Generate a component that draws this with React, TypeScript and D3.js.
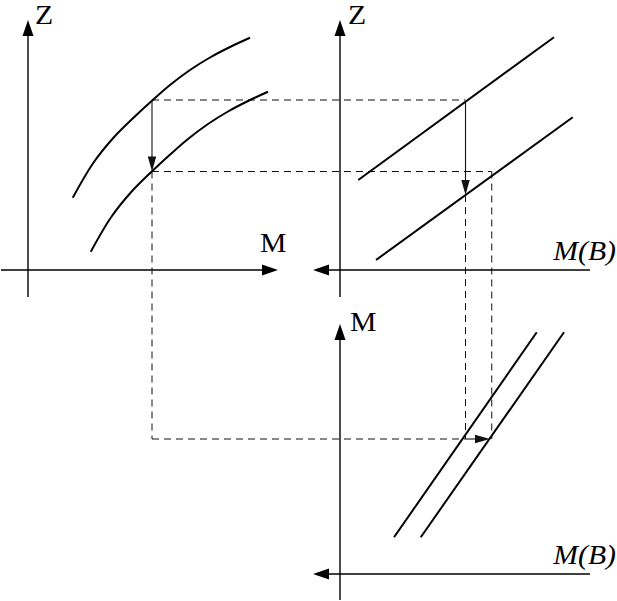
import React from "react";
import * as d3 from "d3";

// ---- data (abstract units 0..100 in each panel) ----
// Top-left panel: Z vs M, two concave curves
const mHigh = [17.9, 26.1, 34.1, 42.1, 50.0, 56.8, 64.8, 72.8, 80.8, 88.8];
const zHigh = [28.9, 42.8, 52.8, 60.8, 68.1, 74.0, 80.0, 85.0, 89.2, 92.9];
const mLow = [25.1, 33.3, 41.3, 49.3, 57.2, 64.0, 72.0, 80.0, 88.0, 96.0];
const zLow = [7.3, 21.2, 31.2, 39.2, 46.5, 52.4, 58.4, 63.4, 67.6, 71.3];

// Top-right panel: Z vs M(B), two straight lines
const mbLineA = [7.3, 85.6];
const zLineA = [36, 93.1];
const mbLineB = [14.4, 93.1];
const zLineB = [4, 61.1];

// Bottom-right panel: M vs M(B), two straight lines
const mbDiagA = [21.6, 78.7];
const mDiagA = [14.7, 96.7];
const mbDiagB = [32.3, 89.6];
const mDiagB = [14.7, 96.7];

// Construction values
const mStart = 49.6;
const zStart = 68;
const zAfter = 39.4;
const mbStart = 50.2;
const mbAfter = 60.7;
const zArrowTop = 67.6;
const zArrowTip = 30;
const mbArrowEnd = 60;
const mLevel = 54;

// Labels
const labelZ = "Z";
const labelM = "M";
const labelMB = "M(B)";

// ---- scales ----
const xM = d3.scaleLinear().domain([0, 100]).range([28, 278]);
const zY = d3.scaleLinear().domain([0, 100]).range([270, 20]);
const xMB = d3.scaleLinear().domain([0, 100]).range([340, 590]);
const mY = d3.scaleLinear().domain([0, 100]).range([574, 324]);

const W = 617;
const H = 601;

const curveGen = d3
  .line<[number, number]>()
  .x((d) => d[0])
  .y((d) => d[1])
  .curve(d3.curveCatmullRom.alpha(0.5));

const straight = d3
  .line<[number, number]>()
  .x((d) => d[0])
  .y((d) => d[1]);

function pts(xs: number[], ys: number[], sx: any, sy: any): [number, number][] {
  return xs.map((x, i) => [sx(x), sy(ys[i])]);
}

function head(x1: number, y1: number, x2: number, y2: number, len: number, hw: number) {
  const dx = x2 - x1;
  const dy = y2 - y1;
  const L = Math.hypot(dx, dy);
  const ux = dx / L;
  const uy = dy / L;
  const bx = x2 - ux * len;
  const by = y2 - uy * len;
  const px = -uy;
  const py = ux;
  return `M${x2},${y2}L${bx + px * hw},${by + py * hw}L${bx - px * hw},${by - py * hw}Z`;
}

function Arrow({ x1, y1, x2, y2, len, hw, sw, color }: any) {
  const dx = x2 - x1;
  const dy = y2 - y1;
  const L = Math.hypot(dx, dy);
  const ex = x2 - (dx / L) * (len - 1);
  const ey = y2 - (dy / L) * (len - 1);
  return (
    <g>
      <line x1={x1} y1={y1} x2={ex} y2={ey} stroke={color} strokeWidth={sw} />
      <path d={head(x1, y1, x2, y2, len, hw)} fill={color} />
    </g>
  );
}

const font = "'Liberation Serif', 'Times New Roman', serif";

function Label({ x, y, text, italic, anchor }: any) {
  return (
    <text
      transform={`translate(${x},${y}) scale(1.1,1)`}
      fontFamily={font}
      fontSize={27}
      fontStyle={italic ? "italic" : "normal"}
      textAnchor={anchor || "start"}
      fill="#000"
    >
      {text}
    </text>
  );
}

export default function App() {
  const dash = "7,5";
  const dashColor = "#111";

  const guides: [number, number, number, number][] = [
    [xM(mStart), zY(zStart), xMB(mbStart), zY(zStart)],
    [xM(mStart), zY(zAfter), xMB(mbAfter), zY(zAfter)],
    [xM(mStart), zY(zAfter), xM(mStart), mY(mLevel)],
    [xM(mStart), mY(mLevel), xMB(mbStart), mY(mLevel)],
    [xMB(mbStart), zY(zArrowTip), xMB(mbStart), mY(mLevel)],
    [xMB(mbAfter), zY(zAfter), xMB(mbAfter), mY(mLevel)],
  ];

  return (
    <svg
      width={W}
      height={H}
      style={{ position: "absolute", left: 0, top: 0, background: "#fff" }}
    >
      <rect x={0} y={0} width={W} height={H} fill="#fff" />

      {/* dashed construction lines */}
      {guides.map((g, i) => (
        <line
          key={i}
          x1={g[0]}
          y1={g[1]}
          x2={g[2]}
          y2={g[3]}
          stroke={dashColor}
          strokeWidth={1}
          strokeDasharray={dash}
        />
      ))}

      {/* axes: top-left */}
      <Arrow x1={xM(-10.8)} y1={zY(0)} x2={xM(100)} y2={zY(0)} len={16} hw={5.5} sw={1.4} color="#000" />
      <Arrow x1={xM(0)} y1={zY(-10.8)} x2={xM(0)} y2={zY(100)} len={16} hw={5.5} sw={1.4} color="#000" />
      {/* axes: top-right */}
      <Arrow x1={xMB(100)} y1={zY(0)} x2={xMB(-10.8)} y2={zY(0)} len={16} hw={5.5} sw={1.4} color="#000" />
      <Arrow x1={xMB(0)} y1={zY(-10.8)} x2={xMB(0)} y2={zY(100)} len={16} hw={5.5} sw={1.4} color="#000" />
      {/* axes: bottom-right */}
      <Arrow x1={xMB(100)} y1={mY(0)} x2={xMB(-10.8)} y2={mY(0)} len={16} hw={5.5} sw={1.4} color="#000" />
      <Arrow x1={xMB(0)} y1={mY(-10.4)} x2={xMB(0)} y2={mY(100)} len={16} hw={5.5} sw={1.4} color="#000" />

      {/* curves */}
      <path d={curveGen(pts(mHigh, zHigh, xM, zY)) || ""} fill="none" stroke="#000" strokeWidth={2} />
      <path d={curveGen(pts(mLow, zLow, xM, zY)) || ""} fill="none" stroke="#000" strokeWidth={2} />
      <path d={straight(pts(mbLineA, zLineA, xMB, zY)) || ""} fill="none" stroke="#000" strokeWidth={2} />
      <path d={straight(pts(mbLineB, zLineB, xMB, zY)) || ""} fill="none" stroke="#000" strokeWidth={2} />
      <path d={straight(pts(mbDiagA, mDiagA, xMB, mY)) || ""} fill="none" stroke="#000" strokeWidth={2} />
      <path d={straight(pts(mbDiagB, mDiagB, xMB, mY)) || ""} fill="none" stroke="#000" strokeWidth={2} />

      {/* shift arrows */}
      <Arrow x1={xM(mStart)} y1={zY(zStart)} x2={xM(mStart)} y2={zY(zAfter)} len={15} hw={4.2} sw={1.1} color="#111" />
      <Arrow x1={xMB(mbStart)} y1={zY(zArrowTop)} x2={xMB(mbStart)} y2={zY(zArrowTip)} len={15} hw={4.2} sw={1.1} color="#111" />
      <Arrow x1={xMB(mbStart)} y1={mY(mLevel)} x2={xMB(mbArrowEnd)} y2={mY(mLevel)} len={15} hw={4.2} sw={1.1} color="#111" />

      {/* labels */}
      <Label x={xM(0) + 7} y={zY(100) + 4} text={labelZ} />
      <Label x={xM(100) - 18} y={zY(0) - 18} text={labelM} />
      <Label x={xMB(0) + 8} y={zY(100) + 4} text={labelZ} />
      <Label x={W - 1} y={zY(0) - 10} text={labelMB} italic anchor="end" />
      <Label x={xMB(0) + 10} y={mY(100) + 7} text={labelM} />
      <Label x={W - 1} y={mY(0) - 10} text={labelMB} italic anchor="end" />
    </svg>
  );
}
